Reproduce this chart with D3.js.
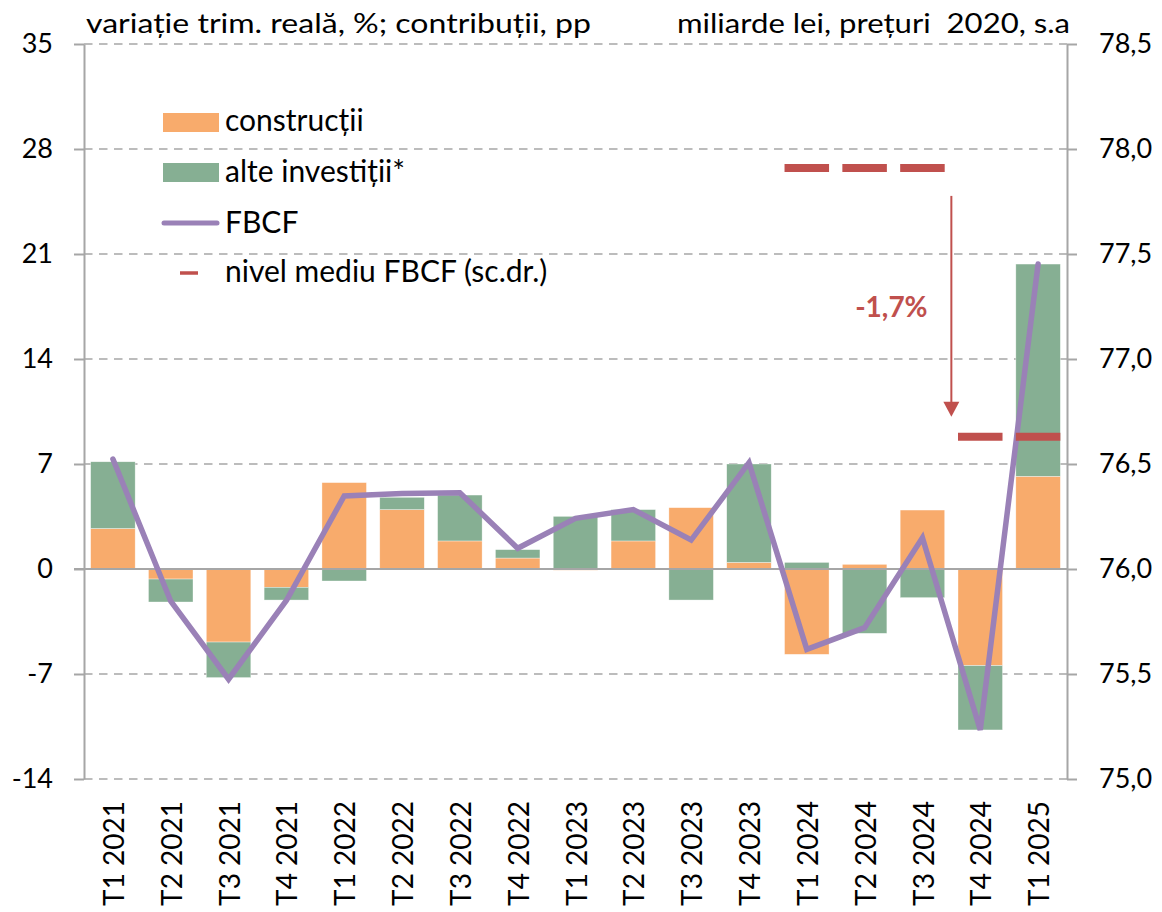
<!DOCTYPE html>
<html>
<head>
<meta charset="utf-8">
<script src="https://cdn.jsdelivr.net/npm/d3@7"></script>
<style>
  html, body { margin: 0; padding: 0; background: #fff; }
  svg { display: block; font-family: Lato, "Open Sans", sans-serif; }
</style>
</head>
<body>
<svg id="chart" width="1162" height="912"></svg>
<script>
// ---------- data ----------
const categories = ["T1 2021","T2 2021","T3 2021","T4 2021","T1 2022","T2 2022","T3 2022","T4 2022",
  "T1 2023","T2 2023","T3 2023","T4 2023","T1 2024","T2 2024","T3 2024","T4 2024","T1 2025"];
const constructii = [2.7, -0.67, -4.87, -1.22, 5.76, 3.96, 1.87, 0.73, -0.08, 1.87, 4.09, 0.44, -5.69, 0.31, 3.93, -6.44, 6.18];
const alteInvestitii = [4.45, -1.53, -2.37, -0.85, -0.8, 0.82, 3.06, 0.56, 3.51, 2.09, -2.07, 6.56, 0.44, -4.29, -1.91, -4.29, 14.15];
const fbcf = [7.33, -2.15, -7.35, -2.1, 4.87, 5.04, 5.09, 1.38, 3.38, 3.96, 1.93, 7.09, -5.36, -3.91, 2.09, -10.73, 20.33];
const nivelMediu = [null, null, null, null, null, null, null, null, null, null, null, null, 77.91, 77.91, 77.91, 76.63, 76.63];
const leftTicks = [-14, -7, 0, 7, 14, 21, 28, 35];
const rightTicks = [75.0, 75.5, 76.0, 76.5, 77.0, 77.5, 78.0, 78.5];
const seriesNames = ["construcții", "alte investiții*", "FBCF", "nivel mediu FBCF (sc.dr.)"];
const titleLeft = "variație trim. reală, %; contribuții, pp";
const titleRight = "miliarde lei, prețuri  2020, s.a";
const changeLabel = "-1,7%";

// ---------- styles ----------
const C_ORANGE = "#F8AB6C", C_GREEN = "#86AF93", C_PURPLE = "#9A81B7", C_RED = "#C0504D", C_GRID = "#A6A6A6";

const svg = d3.select("#chart");
const X0 = 84, X1 = 1067, Y0 = 44, Y1 = 779;

const x = d3.scaleBand().domain(categories).range([X0, X1]).padding(0);
const bw = x.bandwidth() * 0.77;
const yL = d3.scaleLinear().domain([-14, 35]).range([Y1, Y0]);
const yR = d3.scaleLinear().domain([75, 78.5]).range([Y1, Y0]);

svg.append("rect").attr("width", 1162).attr("height", 912).attr("fill", "#fff");

// gridlines
svg.append("g").selectAll("line").data(leftTicks.filter(d => d !== 0)).join("line")
  .attr("x1", X0).attr("x2", X1)
  .attr("y1", d => yL(d)).attr("y2", d => yL(d))
  .attr("stroke", C_GRID).attr("stroke-width", 1.6).attr("stroke-dasharray", "8.5,6.5");

// stacked bars
const rows = categories.map((c, i) => ({ cat: c, constructii: constructii[i], alte: alteInvestitii[i] }));
const stack = d3.stack().keys(["constructii", "alte"]).offset(d3.stackOffsetDiverging);
const stacked = stack(rows);
const colors = { constructii: C_ORANGE, alte: C_GREEN };
svg.append("g").selectAll("g").data(stacked).join("g")
  .attr("fill", d => colors[d.key])
  .selectAll("rect").data(d => d).join("rect")
  .attr("x", d => x(d.data.cat) + (x.bandwidth() - bw) / 2)
  .attr("width", bw)
  .attr("y", d => yL(Math.max(d[0], d[1])))
  .attr("height", d => Math.abs(yL(d[0]) - yL(d[1])))
  .attr("stroke", "#fff").attr("stroke-width", 0.6).attr("stroke-opacity", 0.6);

// zero line
svg.append("line").attr("x1", X0 - 10).attr("x2", X1).attr("y1", yL(0)).attr("y2", yL(0))
  .attr("stroke", C_GRID).attr("stroke-width", 2);

// axes
const axL = svg.append("g").attr("transform", `translate(${X0},0)`)
  .call(d3.axisLeft(yL).tickValues(leftTicks).tickSize(10).tickSizeOuter(0).tickPadding(21).tickFormat(d => String(d)));
const axR = svg.append("g").attr("transform", `translate(${X1},0)`)
  .call(d3.axisRight(yR).tickValues(rightTicks).tickSize(10).tickSizeOuter(0).tickPadding(22)
    .tickFormat(d => d.toFixed(1).replace(".", ",")));
[axL, axR].forEach(ax => {
  ax.select(".domain").attr("stroke", C_GRID).attr("stroke-width", 2);
  ax.selectAll(".tick line").attr("stroke", C_GRID).attr("stroke-width", 2);
  ax.selectAll(".tick text").attr("fill", "#000").style("font-size", "27px").style("font-family", "Lato, sans-serif");
});

// category labels
svg.append("g").selectAll("text").data(categories).join("text")
  .attr("transform", d => `translate(${x(d) + x.bandwidth() / 2 + 1},801) rotate(-90)`)
  .attr("text-anchor", "end").attr("dy", "0.36em")
  .style("font-size", "28px").attr("fill", "#000")
  .text(d => d);

// FBCF line
const line = d3.line().x((d, i) => x(categories[i]) + x.bandwidth() / 2).y(d => yL(d));
svg.append("path").datum(fbcf).attr("d", line)
  .attr("fill", "none").attr("stroke", C_PURPLE).attr("stroke-width", 5.5)
  .attr("stroke-linejoin", "miter").attr("stroke-linecap", "round");

// average level dashes (right axis)
const dashW = bw;
svg.append("g").selectAll("line").data(nivelMediu.map((v, i) => ({ v, c: categories[i] })).filter(d => d.v !== null)).join("line")
  .attr("x1", d => x(d.c) + (x.bandwidth() - dashW) / 2)
  .attr("x2", d => x(d.c) + (x.bandwidth() + dashW) / 2)
  .attr("y1", d => yR(d.v)).attr("y2", d => yR(d.v))
  .attr("stroke", C_RED).attr("stroke-width", 8);

// arrow between the two levels
const arrowX = (x("T3 2024") + x("T4 2024") + x.bandwidth()) / 2;
const arrowTop = yR(nivelMediu[12]) + 28;
const arrowTip = yR(nivelMediu[15]) - 20;
svg.append("line").attr("x1", arrowX).attr("x2", arrowX).attr("y1", arrowTop).attr("y2", arrowTip - 12)
  .attr("stroke", C_RED).attr("stroke-width", 2);
svg.append("path")
  .attr("d", `M${arrowX - 8},${arrowTip - 15} L${arrowX + 8},${arrowTip - 15} L${arrowX},${arrowTip} Z`)
  .attr("fill", C_RED);
svg.append("text").attr("x", arrowX - 60).attr("y", 317).attr("text-anchor", "middle")
  .style("font-size", "28px").style("font-weight", "bold").attr("fill", C_RED).text(changeLabel);

// titles
svg.append("text").attr("x", 86).attr("y", 33).attr("textLength", 505).attr("lengthAdjust", "spacingAndGlyphs")
  .style("font-size", "27px").attr("fill", "#000").text(titleLeft);
svg.append("text").attr("x", 677).attr("y", 33).attr("textLength", 393).attr("lengthAdjust", "spacingAndGlyphs")
  .style("font-size", "27px").style("white-space", "pre").attr("fill", "#000").text(titleRight);

// legend
const lg = svg.append("g");
lg.append("rect").attr("x", 163).attr("y", 113).attr("width", 56).attr("height", 19).attr("fill", C_ORANGE);
lg.append("rect").attr("x", 163).attr("y", 163).attr("width", 56).attr("height", 19).attr("fill", C_GREEN);
lg.append("line").attr("x1", 164).attr("x2", 217).attr("y1", 223).attr("y2", 223)
  .attr("stroke", C_PURPLE).attr("stroke-width", 5).attr("stroke-linecap", "round");
lg.append("line").attr("x1", 180).attr("x2", 198).attr("y1", 273).attr("y2", 273)
  .attr("stroke", C_RED).attr("stroke-width", 3.5);
const legendY = [131, 182, 233, 282];
lg.selectAll("text.lt").data(seriesNames).join("text").attr("class", "lt")
  .attr("x", 225).attr("y", (d, i) => legendY[i])
  .style("font-size", "30px").attr("fill", "#000").text(d => d);
</script>
</body>
</html>
